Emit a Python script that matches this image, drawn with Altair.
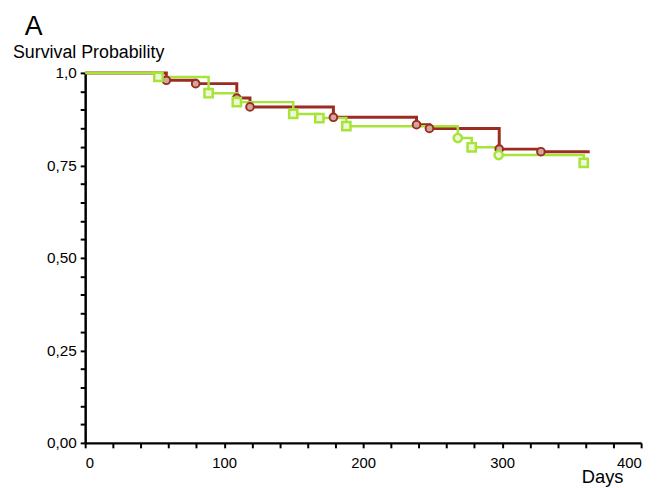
import altair as alt
import pandas as pd

# Kaplan-Meier style survival curves
red_days = [0, 58.4, 79.5, 109.1, 118.6, 178.6, 238.4, 247.7, 297.9, 327.9, 363.0]
red_surv = [1.0, 0.980, 0.971, 0.932, 0.908, 0.880, 0.860, 0.850, 0.794, 0.787, 0.787]

green_days = [0, 52.7, 88.8, 109.1, 149.7, 168.5, 187.9, 268.1, 278.1, 297.5, 358.7]
green_surv = [1.0, 0.989, 0.945, 0.921, 0.889, 0.878, 0.856, 0.824, 0.799, 0.778, 0.757]
green_shapes = ["square", "square", "square", "square", "square", "square",
                "circle", "square", "circle", "square"]

x_ticks = list(range(0, 401, 20))
y_ticks = [round(i * 0.05, 2) for i in range(21)]

RED = "#9c2b20"
GREEN = "#a6e43a"

red_df = pd.DataFrame({"days": red_days, "surv": red_surv})
green_df = pd.DataFrame({"days": green_days, "surv": green_surv})
red_marks = pd.DataFrame({"days": red_days[1:-1], "surv": red_surv[1:-1]})
green_marks = pd.DataFrame({"days": green_days[1:], "surv": green_surv[1:], "shape": green_shapes})

x_enc = alt.X("days:Q",
              scale=alt.Scale(domain=[0, 400], nice=False),
              axis=alt.Axis(values=x_ticks, title=None,
                            labelExpr="datum.value % 100 == 0 ? datum.label : ''",
                            labelFontSize=15, labelPadding=8))
y_enc = alt.Y("surv:Q",
              scale=alt.Scale(domain=[0, 1], nice=False),
              axis=alt.Axis(values=y_ticks, title=None,
                            labelExpr="abs(datum.value*4 - round(datum.value*4)) < 0.001 ? (datum.value == 1 ? '1,0' : replace(format(datum.value, '.2f'), '.', ',')) : ''",
                            labelFontSize=15.5, labelPadding=4))

red_line = alt.Chart(red_df).mark_line(interpolate="step-after", color=RED, strokeWidth=3).encode(x=x_enc, y=y_enc)
green_line = alt.Chart(green_df).mark_line(interpolate="step-after", color=GREEN, strokeWidth=2.5).encode(x=x_enc, y=y_enc)

red_pts = alt.Chart(red_marks).mark_point(shape="circle", filled=True, size=60, fill="#cfa8a0",
                                          stroke=RED, strokeWidth=2, opacity=1).encode(x=x_enc, y=y_enc)
green_pts = alt.Chart(green_marks).mark_point(filled=True, size=70, fill="#eef7d6",
                                              stroke=GREEN, strokeWidth=2.5, opacity=1).encode(
    x=x_enc, y=y_enc,
    shape=alt.Shape("shape:N", scale=None, legend=None))

txt_A = alt.Chart(pd.DataFrame({"t": ["A"]})).mark_text(
    align="left", baseline="alphabetic", fontSize=27, font="Liberation Sans", color="black"
).encode(text="t:N", x=alt.value(-61), y=alt.value(-38))

txt_y = alt.Chart(pd.DataFrame({"t": ["Survival Probability"]})).mark_text(
    align="left", baseline="alphabetic", fontSize=18, font="Liberation Sans", color="black"
).encode(text="t:N", x=alt.value(-73), y=alt.value(-15))

txt_x = alt.Chart(pd.DataFrame({"t": ["Days"]})).mark_text(
    align="left", baseline="alphabetic", fontSize=18.5, font="Liberation Sans", color="black"
).encode(text="t:N", x=alt.value(502), y=alt.value(415))

chart = alt.layer(red_line, green_line, red_pts, green_pts, txt_A, txt_y, txt_x).properties(
    width=562, height=374,
    autosize=alt.AutoSizeParams(type="none"),
    padding={"left": 78, "top": 63, "right": 13, "bottom": 43},
).configure_view(stroke=None).configure_axis(
    grid=False, domainColor="black", domainWidth=2.5, tickColor="black",
    tickWidth=2, tickSize=5, labelColor="black", labelFont="Liberation Sans",
)

chart.save("out.html", embed_options={"renderer": "svg", "actions": False})
